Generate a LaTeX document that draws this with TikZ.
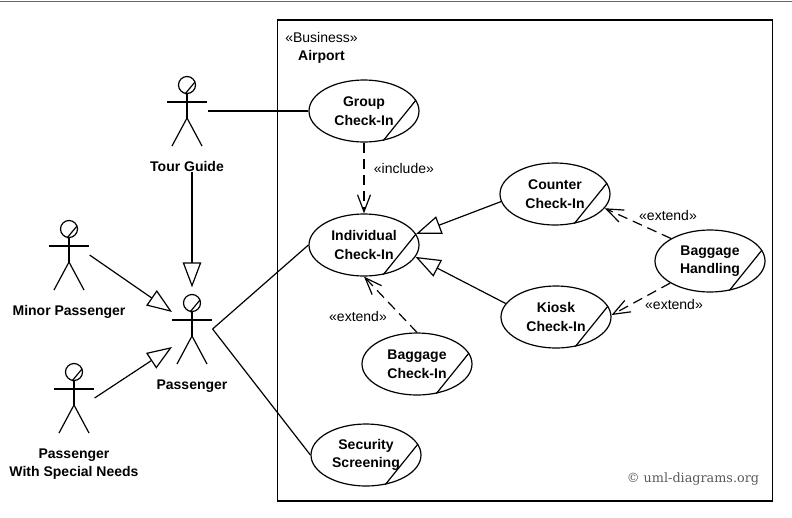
\documentclass[tikz,border=0pt]{standalone}
\usepackage{fontspec}
\setmainfont{Liberation Sans}
\newfontfamily\copyfont{DejaVu Serif}
\usetikzlibrary{shapes.geometric, arrows.meta}

\begin{document}
\begin{tikzpicture}[x=1pt, y=-1pt, line width=1.2pt, node distance=55pt,
        font=\fontsize{14}{18.5}\selectfont,
        usecase/.style = {draw, ellipse, inner sep=0pt, minimum width=110pt, minimum height=62pt, align=center, font=\fontsize{14}{18.5}\selectfont\bfseries,
            append after command={(\tikzlastnode.-57) edge (\tikzlastnode.12)}},
        actor/.style = {inner sep=0pt, minimum width=40pt, minimum height=70pt},
        actorname/.style = {align=center, inner sep=0pt, font=\fontsize{14}{18.5}\selectfont\bfseries},
        general/.style = {-{Triangle[open, length=25pt, width=18.5pt]}},
        depend/.style = {-{Straight Barb[length=17pt, width=13pt]}, dash pattern=on 10pt off 6pt}]
                \useasboundingbox (0,0) rectangle (792,517);
                \draw[gray!80!black] (0,1.5) -- (792,1.5);
                \node[draw, line width=1.3pt, inner sep=0pt, minimum width=495.5pt, minimum height=481pt] (airport) at (525,260.5) {};
                \node (stereo) at (321.5,37) {«Business»};
                \node[actorname] (airportname) at (321.5,57) {Airport};
                % use cases
                \node[usecase] (group) at (364,111) {Group\\Check-In};
                \node[usecase] (indiv) at (364,245) {Individual\\Check-In};
                \node[usecase] (counter) at (555,194) {Counter\\Check-In};
                \node[usecase] (kiosk) at (556,317) {Kiosk\\Check-In};
                \node[usecase] (handling) at (710,261) {Baggage\\Handling};
                \node[usecase] (bagcheck) at (417,364) {Baggage\\Check-In};
                \node[usecase] (security) at (366,455) {Security\\Screening};
                % actors
                \node[actor] (guide) at (187,111) {};
                \node[actor] (minor) at (69,255) {};
                \node[actor] (pass) at (192,329) {};
                \node[actor] (special) at (74,398) {};
                \foreach \a in {guide, minor, pass, special} {
                    \begin{scope}[shift={(\a.center)}]
                        \draw (0,-26) circle (8.5pt);
                        \draw (-2,-17) -- (8,-29);
                        \draw (-20,-9) -- (20,-9);
                        \draw (0,-17.5) -- (0,7);
                        \draw (-15,35) -- (0,7) -- (15,35);
                    \end{scope}
                }
                \node[actorname] (guidename) [below of=guide] {Tour Guide};
                \node[actorname] (minorname) [below of=minor, node distance=57pt] {Minor Passenger};
                \node[actorname] (passname) [below of=pass, node distance=57pt] {Passenger};
                \node[actorname] (specialname) [below of=special, node distance=66pt] {Passenger\\With Special Needs};
                \coordinate (passup) at (172,312);
                \coordinate (passlow) at (172,347);
                \coordinate (guidefoot) at (guidename.south -| pass.north);
                % connectors
                \draw (guide) -- (group);
                \draw (pass.east) -- (indiv.west);
                \draw (pass.east) -- (security.west);
                \draw[general, shorten >=6pt] (guidefoot) -- (pass.north);
                \draw[general] (minor.east) -- (passup);
                \draw[general] (special.east) -- (passlow);
                \draw[general] (counter.188) -- (indiv.12);
                \draw[general] (kiosk.165) -- (indiv.-13);
                \draw[depend] (group.south) -- node[pos=0.37, right, xshift=6pt] {«include»} (indiv.north);
                \draw[depend] (bagcheck.north) -- (indiv.south);
                \draw[depend] (handling.150) -- (counter.-16);
                \draw[depend] (handling.209) -- (kiosk.2);
                \node (extleft) at (358,316.5) {«extend»};
                \node (exttop) at (668,215) {«extend»};
                \node (extlow) at (674,304) {«extend»};
                \node[gray!70!black, font=\fontsize{12.8}{15}\copyfont] (copy) at (693,479) {© uml-diagrams.org};
            \end{tikzpicture}
\end{document}
